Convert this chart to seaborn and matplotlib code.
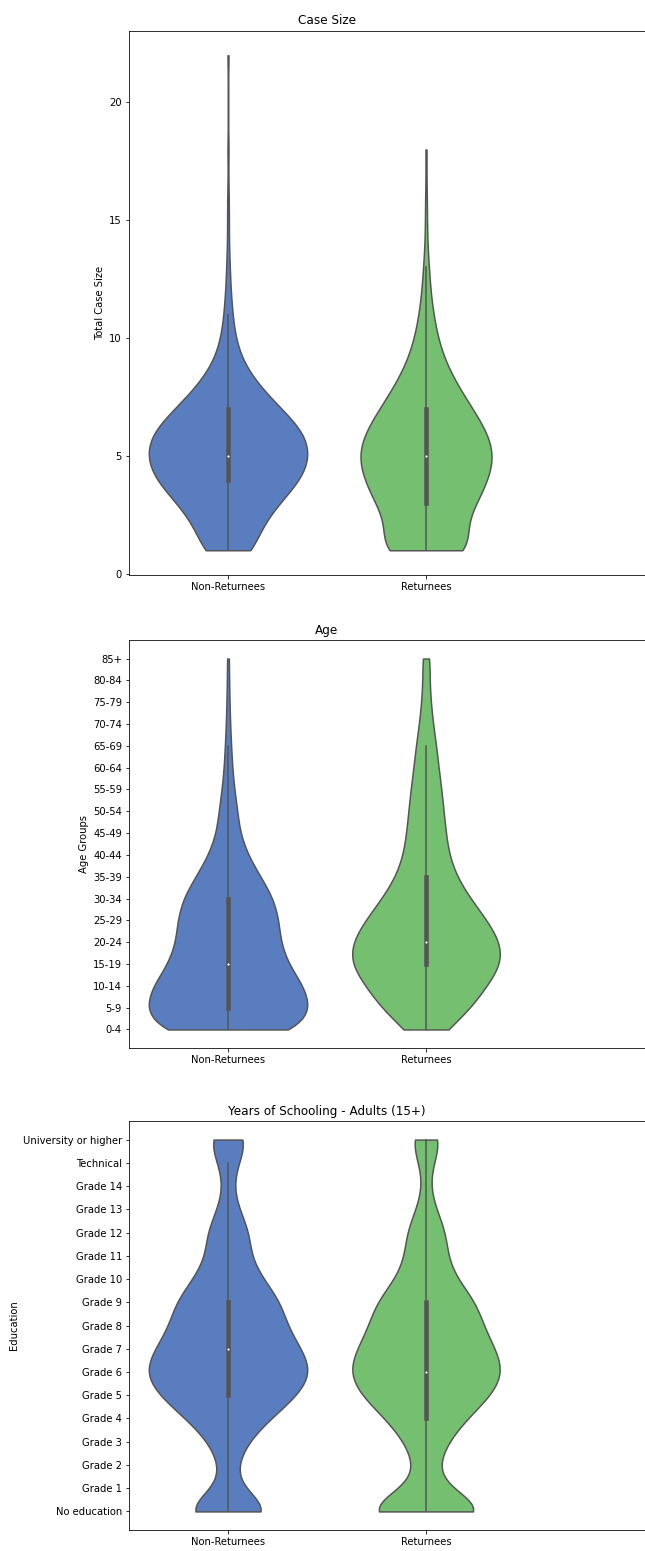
import numpy as np
import pandas as pd
import matplotlib
matplotlib.use("Agg")
import matplotlib.pyplot as plt
import seaborn as sns

# ---------------- data ----------------
groups = ["Non-Returnees", "Returnees"]

case_values = list(range(1, 23))
case_counts_non = [30, 37, 57, 83, 93, 87, 60, 34, 16, 8, 5, 3, 2, 1, 1, 1, 0, 1, 0, 0, 0, 1]
case_counts_ret = [55, 32, 50, 60, 68, 60, 45, 30, 18, 11, 7, 4, 3, 1, 1, 1, 0, 1, 0, 0, 0, 0]

age_labels = ["0-4", "5-9", "10-14", "15-19", "20-24", "25-29", "30-34", "35-39",
              "40-44", "45-49", "50-54", "55-59", "60-64", "65-69", "70-74",
              "75-79", "80-84", "85+"]
age_counts_non = [280, 320, 290, 230, 200, 195, 175, 125, 75, 45, 36, 24, 16, 12, 8, 6, 4, 4]
age_counts_ret = [100, 215, 280, 360, 350, 285, 205, 140, 105, 92, 82, 72, 58, 48, 32, 22, 15, 20]

edu_labels = ["No education", "Grade 1", "Grade 2", "Grade 3", "Grade 4", "Grade 5",
              "Grade 6", "Grade 7", "Grade 8", "Grade 9", "Grade 10", "Grade 11",
              "Grade 12", "Grade 13", "Grade 14", "Technical", "University or higher"]
edu_counts_non = [330, 48, 48, 108, 240, 405, 495, 420, 330, 312, 198, 120, 132, 60, 24, 54, 132]
edu_counts_ret = [480, 75, 60, 120, 225, 375, 450, 390, 315, 294, 165, 114, 120, 54, 15, 36, 105]

pal = sns.color_palette("muted")
violin_colors = [pal[0], pal[2]]


def expand(values, counts_non, counts_ret):
    vals = np.concatenate([np.repeat(values, counts_non), np.repeat(values, counts_ret)])
    grp = [groups[0]] * int(sum(counts_non)) + [groups[1]] * int(sum(counts_ret))
    return pd.DataFrame({"group": grp, "value": vals.astype(float)})


df_case = expand(case_values, case_counts_non, case_counts_ret)
df_age = expand(list(range(len(age_labels))), age_counts_non, age_counts_ret)
df_edu = expand(list(range(len(edu_labels))), edu_counts_non, edu_counts_ret)

# ---------------- figure ----------------
W, H = 645, 1551
DPI = 72
fig = plt.figure(figsize=(W / DPI, H / DPI), dpi=DPI)
LEFT_PX, RIGHT_PX = 129, 700
TITLE_X = (327 - LEFT_PX) / (RIGHT_PX - LEFT_PX)


def make_ax(top_px, bottom_px):
    return fig.add_axes([LEFT_PX / W, 1 - bottom_px / H,
                         (RIGHT_PX - LEFT_PX) / W, (bottom_px - top_px) / H])


def violin(ax, df):
    sns.violinplot(data=df, x="group", y="value", hue="group", order=groups,
                   hue_order=groups, palette=violin_colors, cut=0, inner="box",
                   legend=False, common_norm=True, linewidth=1.5,
                   inner_kws=dict(box_width=4.5, whis_width=1.5, marker="o",
                                  markersize=2.2, markeredgewidth=0),
                   ax=ax)
    ax.set_xlim(-0.5, -0.5 + (RIGHT_PX - LEFT_PX) / 198)
    ax.set_xlabel("")


ax1 = make_ax(30.5, 575)
violin(ax1, df_case)
ax1.set_title("Case Size", x=TITLE_X)
ax1.set_ylabel("Total Case Size")

ax2 = make_ax(640, 1048)
violin(ax2, df_age)
ax2.set_yticks(range(len(age_labels)))
ax2.set_yticklabels(age_labels)
ax2.set_title("Age", x=TITLE_X)
ax2.set_ylabel("Age Groups")

ax3 = make_ax(1121, 1530)
violin(ax3, df_edu)
ax3.set_yticks(range(len(edu_labels)))
ax3.set_yticklabels(edu_labels)
ax3.set_title("Years of Schooling - Adults (15+)", x=TITLE_X)
ax3.set_ylabel("Education")

fig.savefig("out.png", dpi=DPI)
